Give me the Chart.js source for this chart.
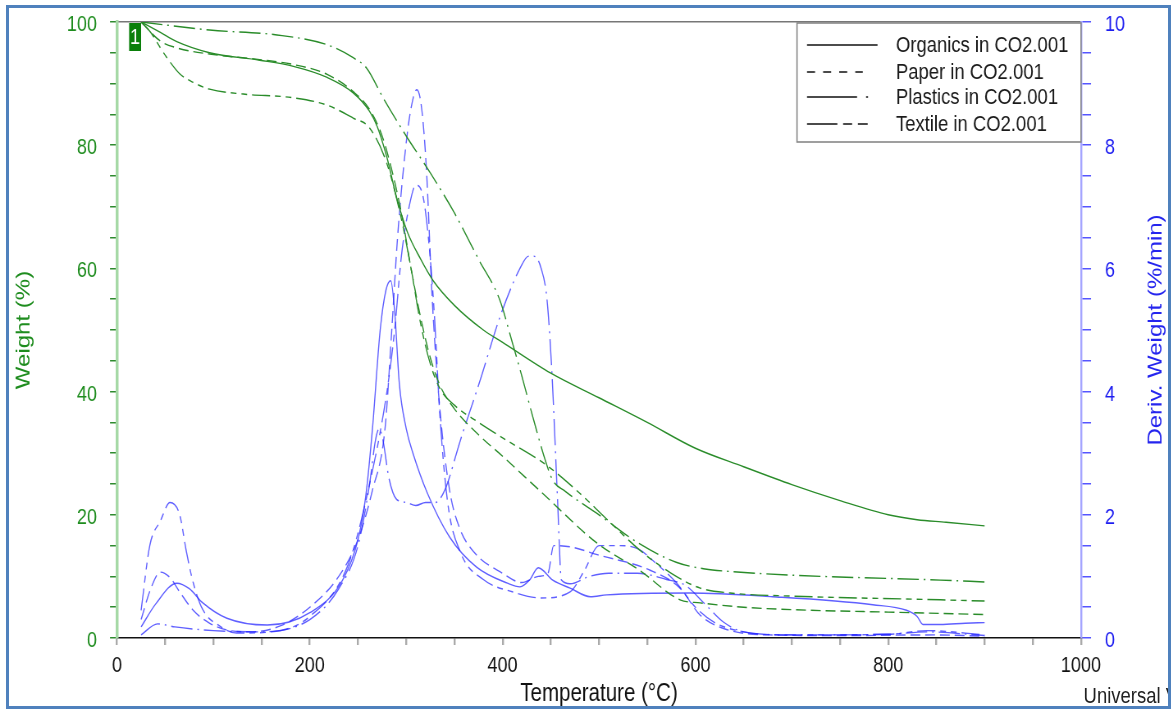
<!DOCTYPE html>
<html>
<head>
<meta charset="utf-8">
<script src="https://cdn.jsdelivr.net/npm/chart.js@4.4.1/dist/chart.umd.min.js"></script>
<style>
  body { margin: 0; background: #fff; }
  #wrap { position: relative; width: 1173px; height: 710px; overflow: hidden; }
  #scaled { position: absolute; left: 0; top: 0; width: 1430px; height: 710px; transform: scaleX(0.82028); transform-origin: 0 0; }
  #univ { position: absolute; left: 1321px; top: 683px; white-space: nowrap; color: #222;
          font: 22.5px "Liberation Sans", Arial, sans-serif; }
  #cover { position: absolute; left: 1168px; top: 0; width: 5px; height: 710px; background: #fff; }
  #frame { position: absolute; left: 6px; top: 5px; width: 1159px; height: 698px; border: 3px solid #4f81bd; pointer-events: none; }
</style>
</head>
<body>
<div id="wrap">
  <div id="scaled">
    <canvas id="tga" width="1430" height="710"></canvas>
    <div id="univ">Universal V</div>
  </div>
  <div id="cover"></div>
  <div id="frame"></div>
</div>
<script>
// weight (%) curves, temperature in °C
const orgWtT = [25, 45, 62, 96, 148, 183, 218, 245, 262, 270, 280, 290, 301, 315, 328, 350, 380, 400, 450, 500, 550, 600, 650, 700, 750, 800, 830, 860, 900];
const orgWt  = [100, 98.3, 96.8, 95, 93.8, 92.8, 91, 88.5, 85.5, 83, 78, 71.5, 66, 61.5, 58, 54, 50, 48, 43, 39, 35, 30.8, 27.8, 24.9, 22.3, 20.0, 19.2, 18.8, 18.2];

const paperWtT = [25, 45, 62, 96, 148, 183, 218, 245, 262, 275, 285, 295, 305, 315, 325, 335, 350, 375, 400, 440, 498, 542, 584, 605, 650, 700, 800, 900];
const paperWt  = [100, 96.9, 95.8, 94.8, 93.9, 93.1, 91.5, 88.7, 85.8, 81.5, 76, 69, 60, 52, 45.5, 41, 37.2, 33, 29.5, 23.7, 15.4, 11, 6.2, 5.7, 5, 4.6, 4.2, 3.8];

const plastWtT = [25, 96, 166, 218, 245, 259, 276, 300, 325, 350, 375, 397, 410, 420, 432, 445, 452, 465, 500, 540, 580, 610, 636, 700, 854, 900];
const plastWt  = [100, 98.7, 97.9, 96.3, 94.2, 92.5, 87.7, 81.5, 75.5, 69, 61.5, 54.9, 48, 42.5, 35.5, 28.5, 25.6, 23.8, 20, 15.5, 12.3, 11.2, 10.8, 10.2, 9.4, 9.1];

const textWtT = [25, 35, 45, 55, 65, 79, 96, 131, 183, 218, 245, 262, 280, 295, 305, 315, 325, 335, 350, 375, 400, 446, 480, 510, 542, 575, 605, 636, 700, 854, 900];
const textWt  = [100, 98.3, 95.8, 93.5, 91.6, 90.2, 89.1, 88.3, 87.7, 86.5, 84.4, 82.8, 77, 68, 60, 51, 44.5, 40.5, 37.8, 35, 32.5, 28, 23.5, 19, 14.3, 10.5, 8.1, 7.3, 6.8, 6.2, 6.0];

// derivative weight (%/min) curves
const orgDvT = [25, 40, 62, 75, 89, 114, 156, 200, 234, 250, 258, 265, 273, 279, 284, 288, 293, 300, 307, 322, 345, 373, 405, 418, 428, 437, 452, 470, 491, 508, 594, 680, 784, 819, 830, 836, 854, 880, 900];
const orgDv  = [0.18, 0.55, 0.89, 0.8, 0.57, 0.32, 0.21, 0.41, 0.94, 1.6, 2.3, 3.4, 5.0, 5.65, 5.8, 5.3, 4.1, 3.4, 3.0, 2.35, 1.64, 1.15, 0.89, 0.83, 0.94, 1.14, 0.94, 0.81, 0.67, 0.70, 0.73, 0.67, 0.54, 0.45, 0.35, 0.22, 0.22, 0.24, 0.25];

const paperDvT = [25, 35, 45, 55, 65, 79, 95, 114, 140, 170, 200, 230, 250, 265, 278, 285, 291, 299, 305, 311, 316, 321, 327, 335, 345, 355, 370, 400, 420, 437, 447, 453, 470, 499, 553, 584, 605, 630, 677, 750, 850, 900];
const paperDv  = [0.3, 0.8, 1.07, 0.98, 0.75, 0.45, 0.25, 0.13, 0.1, 0.2, 0.5, 1.0, 1.6, 2.4, 3.4, 5.0, 6.5, 7.9, 8.6, 8.9, 8.6, 7.6, 5.5, 3.7, 2.4, 1.8, 1.4, 1.05, 0.9, 1.0, 1.05, 1.5, 1.48, 1.35, 1.1, 0.81, 0.37, 0.15, 0.05, 0.04, 0.05, 0.03];

const plastDvT = [25, 42, 60, 100, 150, 200, 230, 250, 262, 268, 272, 276, 282, 290, 300, 310, 320, 330, 340, 356, 377, 397, 418, 427, 432, 440, 446, 451, 457, 461, 470, 490, 510, 540, 570, 590, 610, 629, 650, 700, 800, 840, 900];
const plastDv  = [0.05, 0.23, 0.18, 0.12, 0.1, 0.3, 0.8, 1.5, 2.5, 3.2, 3.4, 3.2, 2.6, 2.25, 2.2, 2.15, 2.2, 2.2, 2.4, 3.2, 4.2, 5.2, 6.0, 6.2, 6.2, 6.0, 5.5, 4.35, 2.24, 0.94, 0.88, 1.0, 1.05, 1.05, 0.95, 0.85, 0.55, 0.26, 0.1, 0.05, 0.06, 0.1, 0.04];

const textDvT = [25, 34, 45, 55, 65, 72, 79, 89, 107, 124, 160, 200, 240, 262, 280, 288, 295, 303, 310, 317, 323, 329, 335, 343, 356, 380, 410, 440, 470, 485, 500, 520, 540, 560, 580, 600, 620, 650, 700, 800, 840, 900];
const textDv  = [0.45, 1.5, 1.9, 2.2, 2.0, 1.4, 0.9, 0.46, 0.19, 0.08, 0.1, 0.35, 1.2, 2.5, 4.0, 5.0, 6.2, 7.0, 7.35, 7.2, 6.5, 5.3, 3.6, 2.2, 1.4, 0.95, 0.75, 0.65, 0.75, 1.1, 1.5, 1.5, 1.45, 1.2, 0.9, 0.5, 0.25, 0.1, 0.05, 0.06, 0.12, 0.05];

const legendLabels = ["Organics in CO2.001", "Paper in CO2.001", "Plastics in CO2.001", "Textile in CO2.001"];

// the source picture is squeezed horizontally; the canvas is drawn wide and scaled by SX
const SX = 1173 / 1430;
const W = v => v / SX;

const GREEN = "#2a8c2a";
const BLUE = "rgba(35,35,255,0.72)";
const SANS = '"Liberation Sans", Arial, sans-serif';

const dash = {
    organics: [],
    paper: [12, 6],
    plastics: [26, 6, 2, 6],
    textile: [22, 6, 7, 6, 7, 6]
};

function pts(t, v) {
    return t.map((x, i) => ({ x: x, y: v[i] }));
}

function curve(label, t, v, color, d, axis) {
    return {
        label: label,
        data: pts(t, v),
        borderColor: color,
        borderWidth: 1.4,
        borderDash: d,
        pointRadius: 0,
        fill: false,
        yAxisID: axis,
        cubicInterpolationMode: "monotone"
    };
}

// keep the plot area where the source has it
function noPad(s) {
    s.paddingTop = 0;
    s.paddingBottom = 0;
    s.paddingLeft = 0;
    s.paddingRight = 0;
}

// legend box, start marker and the two vertical axis titles
const extras = {
    id: "extras",
    afterDraw(chart) {
        const ctx = chart.ctx;
        const area = chart.chartArea;
        const xs = chart.scales.x;
        const ys = chart.scales.y;

        // marker "1" at the start point
        const mx = xs.getPixelForValue(orgWtT[0]);
        const my = ys.getPixelForValue(orgWt[0]);
        ctx.save();
        ctx.fillStyle = "#0a7f0a";
        ctx.fillRect(mx - W(12), my + 1, W(12), 28);
        ctx.fillStyle = "#fff";
        ctx.font = "22px " + SANS;
        ctx.textAlign = "center";
        ctx.textBaseline = "middle";
        ctx.fillText("1", mx - W(6), my + 16);
        ctx.restore();

        // legend
        const bw = W(284), bh = 119;
        const bx = area.right - bw, by = area.top + 1;
        ctx.save();
        ctx.fillStyle = "#fff";
        ctx.fillRect(bx, by, bw, bh);
        ctx.strokeStyle = "#888";
        ctx.lineWidth = 1.6;
        ctx.strokeRect(bx, by, bw, bh);
        const rows = [22, 49, 74, 101];
        const samples = [
            { d: [], len: 86 },
            { d: [9.8, 9.8], len: 68 },
            { d: [61, 11, 2.4, 60], len: 75 },
            { d: [37, 7, 11, 7, 12, 60], len: 75 }
        ];
        ctx.strokeStyle = "#111";
        ctx.lineWidth = 1.4;
        ctx.fillStyle = "#1a1a1a";
        ctx.font = "22.5px " + SANS;
        ctx.textBaseline = "middle";
        rows.forEach((r, i) => {
            ctx.setLineDash(samples[i].d);
            ctx.beginPath();
            ctx.moveTo(bx + W(10), by + r);
            ctx.lineTo(bx + W(10) + samples[i].len, by + r);
            ctx.stroke();
            ctx.fillText(legendLabels[i], bx + W(99), by + r + 1);
        });
        ctx.restore();

        // vertical titles
        const midY = (area.top + area.bottom) / 2;
        function vTitle(text, x, color) {
            ctx.save();
            ctx.translate(x, midY);
            ctx.rotate(-Math.PI / 2);
            ctx.fillStyle = color;
            ctx.font = "24px " + SANS;
            ctx.textAlign = "center";
            ctx.textBaseline = "middle";
            ctx.fillText(text, 0, 0);
            ctx.restore();
        }
        vTitle("Weight (%)", W(24), "#1e8c1e");
        vTitle("Deriv. Weight (%/min)", W(1156), "#2525ee");
    }
};

new Chart(document.getElementById("tga"), {
    type: "line",
    data: {
        datasets: [
            curve(legendLabels[0], orgWtT, orgWt, GREEN, dash.organics, "y"),
            curve(legendLabels[1], paperWtT, paperWt, GREEN, dash.paper, "y"),
            curve(legendLabels[2], plastWtT, plastWt, GREEN, dash.plastics, "y"),
            curve(legendLabels[3], textWtT, textWt, GREEN, dash.textile, "y"),
            curve("Organics deriv", orgDvT, orgDv, BLUE, dash.organics, "y2"),
            curve("Paper deriv", paperDvT, paperDv, BLUE, dash.paper, "y2"),
            curve("Plastics deriv", plastDvT, plastDv, BLUE, dash.plastics, "y2"),
            curve("Textile deriv", textDvT, textDv, BLUE, dash.textile, "y2")
        ]
    },
    options: {
        responsive: false,
        devicePixelRatio: 1,
        animation: false,
        layout: { padding: 0 },
        plugins: {
            legend: { display: false },
            tooltip: { enabled: false }
        },
        scales: {
            x: {
                type: "linear",
                position: "bottom",
                min: 0,
                max: 1000,
                afterFit: s => { s.height = 72; noPad(s); },
                ticks: {
                    stepSize: 50,
                    autoSkip: false,
                    maxRotation: 0,
                    padding: 8,
                    color: "#111",
                    font: { family: SANS, size: 22 },
                    callback: v => (v % 200 === 0 ? v : "")
                },
                grid: { drawOnChartArea: false, tickLength: 7, color: "#aaa", lineWidth: 2.4 },
                border: { color: "#111", width: 1.5 },
                title: {
                    display: true,
                    text: "Temperature (°C)",
                    color: "#111",
                    font: { family: SANS, size: 25 },
                    padding: { top: 0, bottom: 1 }
                }
            },
            xTop: {
                type: "linear",
                position: "top",
                min: 0,
                max: 1000,
                afterFit: s => { s.height = 22; noPad(s); },
                ticks: { display: false },
                grid: { drawOnChartArea: false, drawTicks: false },
                border: { color: "#777", width: 1.5 }
            },
            y: {
                position: "left",
                min: 0,
                max: 100,
                afterFit: s => { s.width = W(117); noPad(s); },
                ticks: {
                    stepSize: 5,
                    autoSkip: false,
                    padding: W(13),
                    labelOffset: 3,
                    color: "#1e8c1e",
                    font: { family: SANS, size: 22 },
                    callback: v => (v % 20 === 0 ? v : "")
                },
                grid: { drawOnChartArea: false, tickLength: W(7), color: "#2e8b2e", lineWidth: 1.5 },
                border: { color: "#a6d9a6", width: 3.5 }
            },
            y2: {
                position: "right",
                min: 0,
                max: 10,
                afterFit: s => { s.width = 1430 - W(1081); noPad(s); },
                ticks: {
                    stepSize: 0.5,
                    autoSkip: false,
                    padding: W(14),
                    labelOffset: 3,
                    color: "#1d1df0",
                    font: { family: SANS, size: 22 },
                    callback: v => {
                        const r = Math.round(v);
                        return Math.abs(v - r) < 1e-6 && r % 2 === 0 ? r : "";
                    }
                },
                grid: { drawOnChartArea: false, tickLength: W(10), color: "#5555ff", lineWidth: 1.5 },
                border: { color: "#a5a5ff", width: 2.4 }
            }
        }
    },
    plugins: [extras]
});
</script>
</body>
</html>
